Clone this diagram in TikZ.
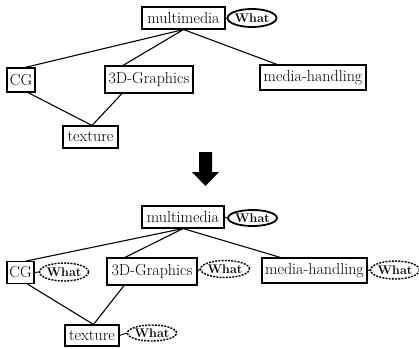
\documentclass[tikz,border=0pt]{standalone}
\usetikzlibrary{shapes.geometric}
\begin{document}
\begin{tikzpicture}[x=1pt,y=-1pt,
  concept/.style={draw, line width=1.1pt, inner sep=0pt, font=\fontsize{16}{18}\selectfont},
  whatsolid/.style={ellipse, draw, line width=1.8pt, inner sep=0pt, font=\bfseries\fontsize{12.5}{13}\selectfont},
  whatdash/.style={ellipse, draw, dashed, dash pattern=on 2pt off 1.2pt, line width=1.4pt, inner sep=0pt, font=\bfseries\fontsize{12.5}{13}\selectfont},
  link/.style={line width=1.1pt},
  tie/.style={line width=0.9pt}]
\useasboundingbox (0,0) rectangle (419,348);

% ---------- upper hierarchy ----------
\node[concept, minimum width=83pt, minimum height=22pt] (mmA) at (183.5,18) {multimedia};
\node[whatsolid, minimum width=41pt, minimum height=18pt] (wmmA) at (252,18) {What};
\node[concept, minimum width=28pt, minimum height=24pt] (cgA) at (21,80) {CG};
\node[concept, minimum width=88pt, minimum height=27pt] (tdA) at (149,79.5) {3D-Graphics};
\node[concept, minimum width=106pt, minimum height=25pt] (mhA) at (313,77.5) {media-handling};
\node[concept, minimum width=55pt, minimum height=22pt] (txA) at (90.5,137) {texture};

\draw[tie] (mmA.east) -- (wmmA.west);
\draw[link] (mmA.south) -- ([xshift=4pt]cgA.north);
\draw[link] (mmA.south) -- ([xshift=-26pt]tdA.north);
\draw[link] (mmA.south) -- ([xshift=-36pt]mhA.north);
\draw[link] ([xshift=7pt]cgA.south) -- ([xshift=1.5pt]txA.north);
\draw[link] ([xshift=-27pt]tdA.south) -- ([xshift=1.5pt]txA.north);

% ---------- transformation arrow ----------
\fill[black] (199,152) -- (212,152) -- (212,172) -- (219,172) -- (205.5,186)
  -- (192,172) -- (199,172) -- cycle;

% ---------- lower hierarchy ----------
\node[concept, minimum width=82pt, minimum height=22pt] (mmB) at (183,217) {multimedia};
\node[whatsolid, minimum width=44pt, minimum height=16pt] (wmmB) at (252.5,218) {What};
\node[concept, minimum width=27pt, minimum height=22pt] (cgB) at (20.5,272.5) {CG};
\node[concept, minimum width=90pt, minimum height=27pt] (tdB) at (152,271.5) {3D-Graphics};
\node[concept, minimum width=105pt, minimum height=25pt] (mhB) at (314.5,270.5) {media-handling};
\node[concept, minimum width=54pt, minimum height=21pt] (txB) at (92,335.5) {texture};

\node[whatdash, minimum width=46pt, minimum height=18pt] (wcgB) at (64,272) {What};
\node[whatdash, minimum width=44pt, minimum height=17pt] (wtdB) at (225,269) {What};
\node[whatdash, minimum width=43pt, minimum height=18pt] (wmhB) at (395,270) {What};
\node[whatdash, minimum width=41pt, minimum height=16pt] (wtxB) at (152,333) {What};

\draw[tie] (mmB.east) -- (wmmB.west);
\draw[tie] (cgB.east) -- (wcgB.west);
\draw[tie] (tdB.east) -- (wtdB.west);
\draw[tie] (mhB.east) -- (wmhB.west);
\draw[tie] (txB.east) -- (wtxB.west);

\draw[link] (mmB.south) -- ([xshift=6pt]cgB.north);
\draw[link] (mmB.south) -- ([xshift=-27pt]tdB.north);
\draw[link] (mmB.south) -- ([xshift=-34pt]mhB.north);
\draw[link] ([xshift=7pt]cgB.south) -- ([xshift=1.5pt]txB.north);
\draw[link] ([xshift=-28pt]tdB.south) -- ([xshift=1.5pt]txB.north);
\end{tikzpicture}
\end{document}
